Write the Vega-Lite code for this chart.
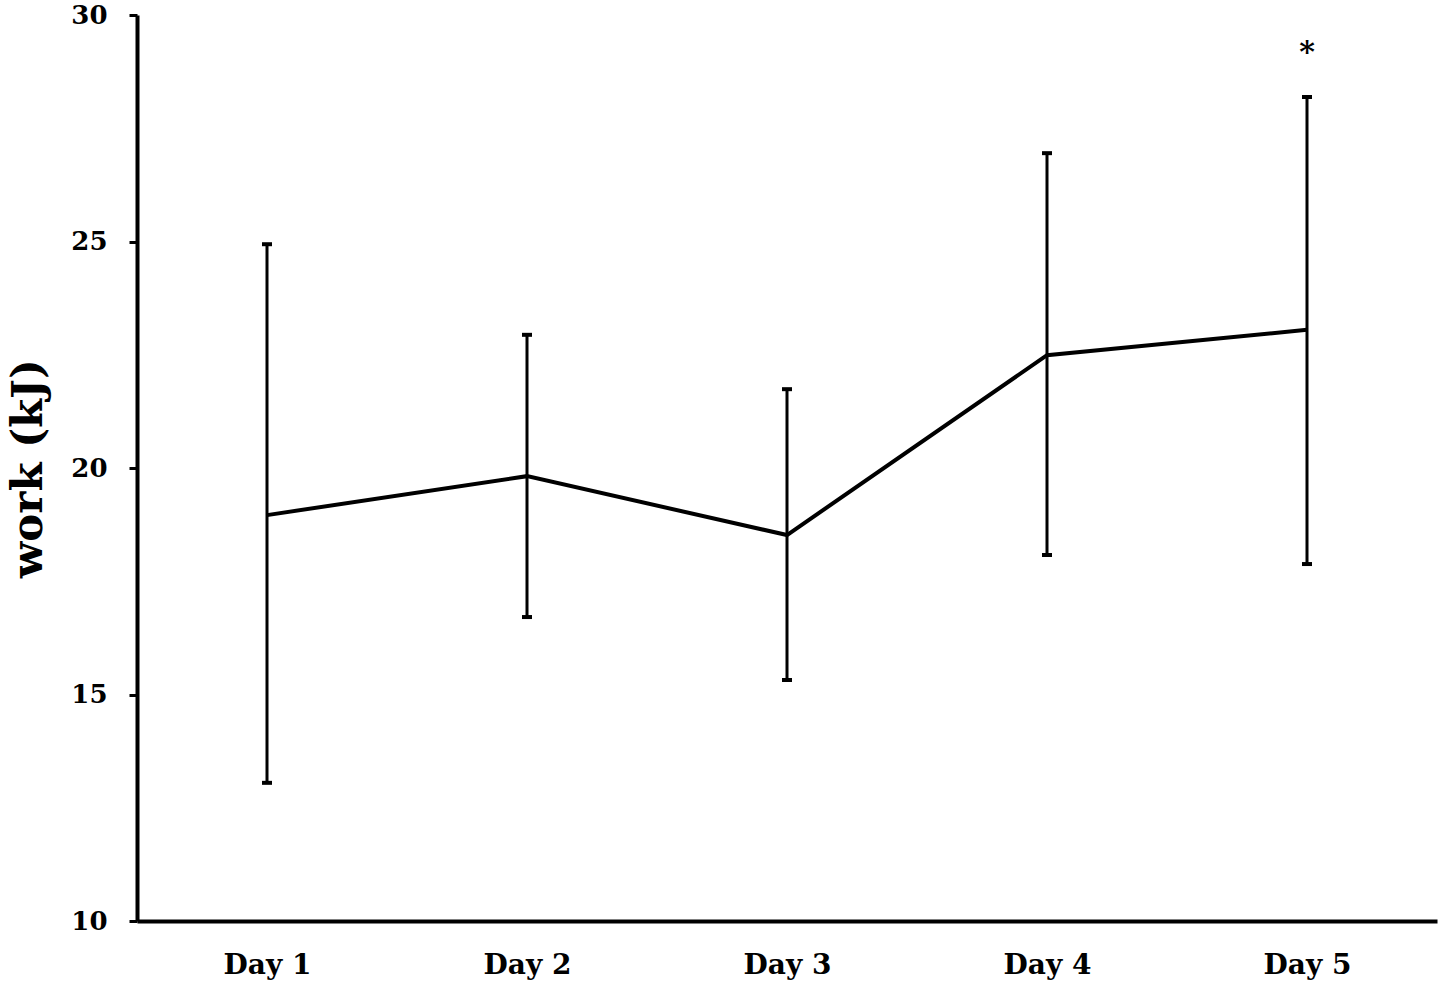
{
  "$schema": "https://vega.github.io/schema/vega-lite/v6.json",
  "width": 1300,
  "height": 906,
  "autosize": "none",
  "padding": {"left": 137, "top": 15, "right": 13, "bottom": 73},
  "background": "white",
  "config": {"view": {"stroke": null}, "font": "DejaVu Serif"},
  "data": {"values": [
    {"day": "Day 1", "mean": 18.96, "lo": 13.05, "hi": 24.94, "sig": ""},
    {"day": "Day 2", "mean": 19.82, "lo": 16.71, "hi": 22.94, "sig": ""},
    {"day": "Day 3", "mean": 18.52, "lo": 15.32, "hi": 21.74, "sig": ""},
    {"day": "Day 4", "mean": 22.49, "lo": 18.08, "hi": 26.95, "sig": ""},
    {"day": "Day 5", "mean": 23.05, "lo": 17.88, "hi": 28.19, "sig": "*"}
  ]},
  "encoding": {
    "x": {"field": "day", "type": "ordinal", "scale": {"type": "point", "padding": 0.5},
      "axis": {"title": null, "labelAngle": 0, "ticks": false, "domainWidth": 4, "domainColor": "black",
        "labelFont": "DejaVu Serif", "labelFontWeight": "bold", "labelFontSize": 28, "labelColor": "black", "labelPadding": 30}}
  },
  "layer": [
    {"mark": {"type": "rule", "color": "black", "strokeWidth": 3},
      "encoding": {"y": {"field": "lo", "type": "quantitative"}, "y2": {"field": "hi"}}},
    {"mark": {"type": "tick", "color": "black", "thickness": 4, "size": 10, "opacity": 1},
      "encoding": {"y": {"field": "hi", "type": "quantitative"}}},
    {"mark": {"type": "tick", "color": "black", "thickness": 4, "size": 10, "opacity": 1},
      "encoding": {"y": {"field": "lo", "type": "quantitative"}}},
    {"mark": {"type": "line", "color": "black", "strokeWidth": 4},
      "encoding": {"y": {"field": "mean", "type": "quantitative",
        "scale": {"domain": [10, 30], "nice": false, "zero": false},
        "axis": {"title": "work (kJ)", "values": [10, 15, 20, 25, 30], "tickSize": 8, "tickWidth": 3, "tickColor": "black",
          "domainWidth": 4, "domainColor": "black", "grid": false,
          "labelFont": "DejaVu Serif", "labelFontWeight": "bold", "labelFontSize": 26, "labelColor": "black", "labelPadding": 22,
          "titleFont": "DejaVu Serif", "titleFontWeight": "bold", "titleFontSize": 42, "titleColor": "black", "titlePadding": 20}}}},
    {"mark": {"type": "text", "fontSize": 30, "fontWeight": "bold", "color": "black", "dy": -44},
      "encoding": {"y": {"field": "hi", "type": "quantitative"}, "text": {"field": "sig"}}}
  ]
}
